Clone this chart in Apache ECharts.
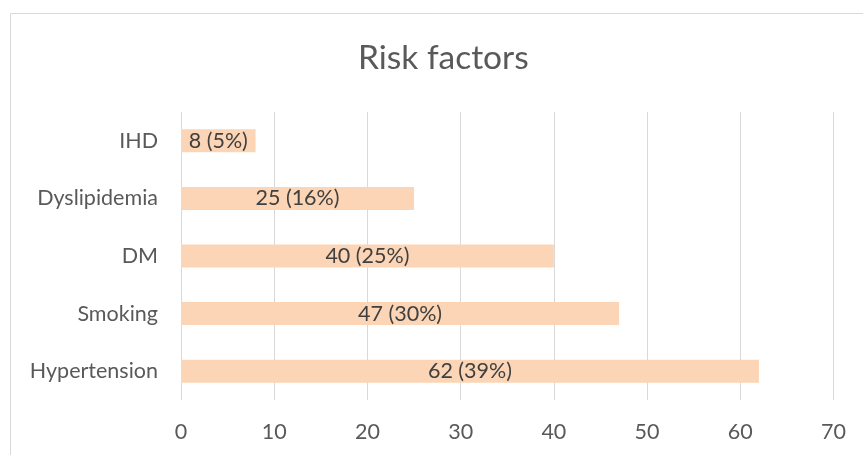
<!DOCTYPE html>
<html>
<head>
<meta charset="utf-8">
<script src="https://cdn.jsdelivr.net/npm/echarts@6/dist/echarts.min.js"></script>
<style>
html,body{margin:0;padding:0;background:#fff;}
#c{width:863px;height:455px;}
</style>
</head>
<body>
<div id="c"></div>
<script>
const categories = ['Hypertension', 'Smoking', 'DM', 'Dyslipidemia', 'IHD'];
const values = [62, 47, 40, 25, 8];
const percents = [39, 30, 25, 16, 5];
const xTicks = [0, 10, 20, 30, 40, 50, 60, 70];

const chart = echarts.init(document.getElementById('c'));
chart.setOption({
  animation: false,
  backgroundColor: '#fff',
  textStyle: { fontFamily: 'Lato' },
  title: {
    text: 'Risk factors',
    left: 353,
    top: 36,
    textStyle: { fontFamily: 'Lato', fontSize: 33.5, fontWeight: 'normal', color: '#595959' }
  },
  graphic: [{
    type: 'rect',
    shape: { x: 10.5, y: 13.5, width: 1000, height: 600 },
    style: { fill: 'none', stroke: '#D9D9D9', lineWidth: 1 },
    silent: true
  }],
  grid: { left: 181, right: 29.5, top: 112, bottom: 55 },
  xAxis: {
    type: 'value',
    min: xTicks[0],
    max: xTicks[xTicks.length - 1],
    interval: 10,
    axisLine: { show: false },
    axisTick: { show: false },
    splitLine: { lineStyle: { color: '#D9D9D9', width: 1 } },
    axisLabel: { fontFamily: 'Lato', fontSize: 21.5, color: '#595959', margin: 21 }
  },
  yAxis: {
    type: 'category',
    data: categories,
    axisLine: { show: false },
    axisTick: { show: false },
    axisLabel: { fontFamily: 'Lato', fontSize: 21.5, color: '#595959', margin: 23 }
  },
  series: [{
    type: 'bar',
    data: values,
    barWidth: '40%',
    itemStyle: { color: '#FBD5B5' },
    label: {
      show: true,
      position: 'inside',
      fontFamily: 'Lato',
      fontSize: 21.5,
      color: '#404040',
      formatter: p => p.value + ' (' + percents[p.dataIndex] + '%)'
    }
  }]
});
</script>
</body>
</html>
